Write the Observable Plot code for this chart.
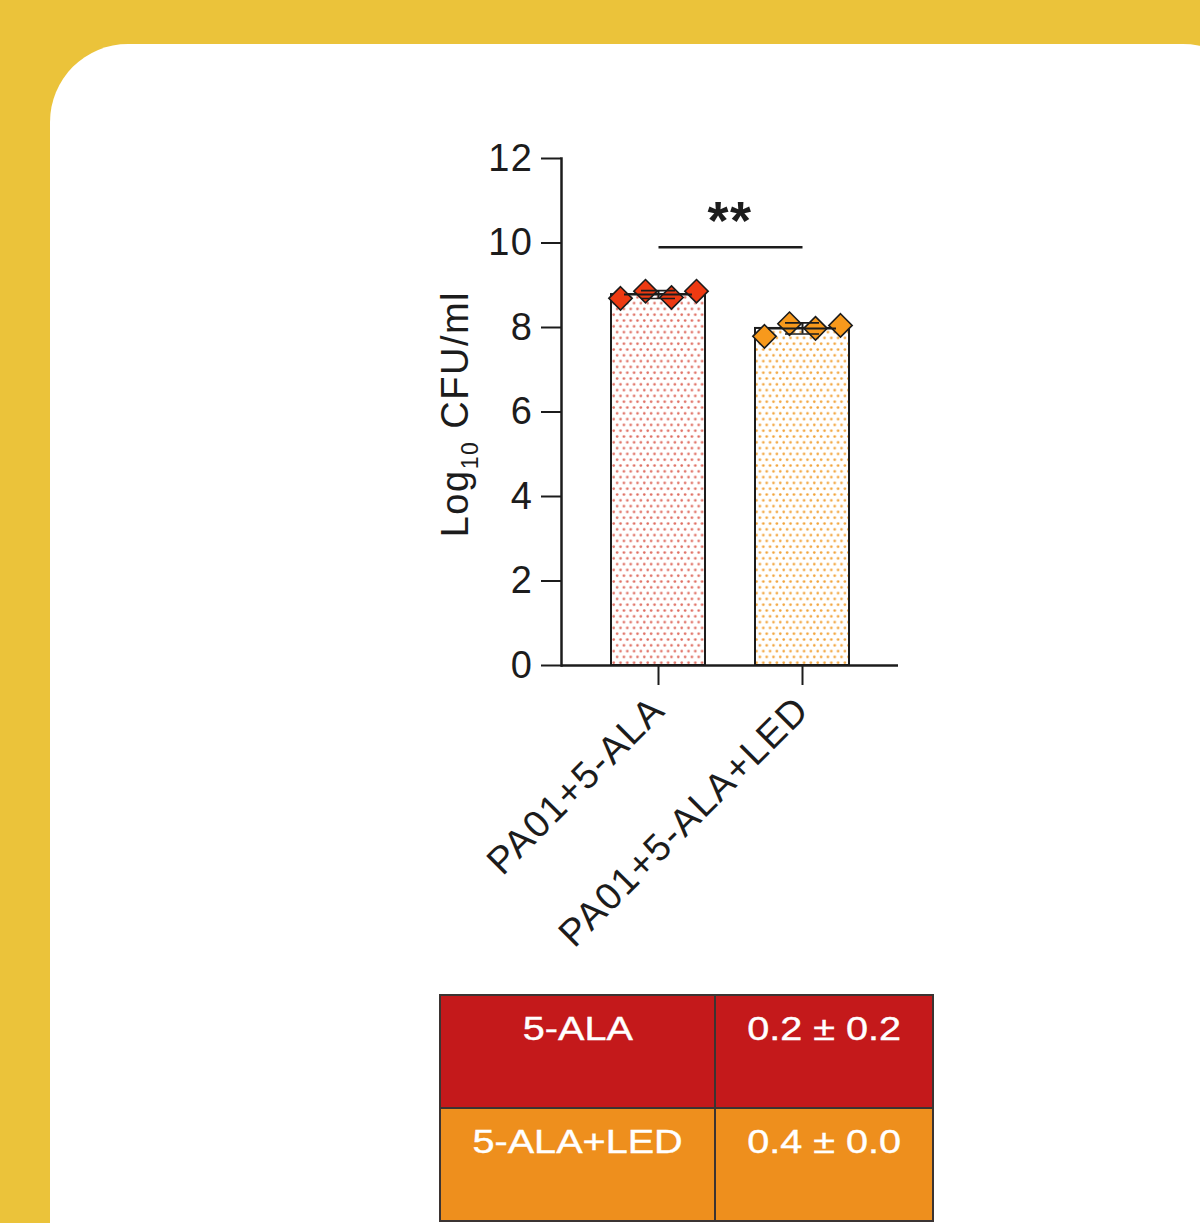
<!DOCTYPE html>
<html>
<head>
<meta charset="utf-8">
<script src="https://cdn.jsdelivr.net/npm/d3@7"></script>
<script src="https://cdn.jsdelivr.net/npm/@observablehq/plot@0.6"></script>
<style>
  html, body { margin: 0; padding: 0; width: 1200px; height: 1223px; overflow: hidden; background: #EBC33A; }
  body { position: relative; font-family: "Liberation Sans", Arial, sans-serif; }
  #card { position: absolute; left: 50px; top: 44px; width: 1211px; height: 1400px; background: #fff; border-radius: 78px; }
  #chart { position: absolute; left: 0; top: 0; }
  #summary { position: absolute; left: 439px; top: 994px; width: 493px; border-collapse: collapse; table-layout: fixed; }
  #summary td { height: 113px; padding: 16px 0 0 0; vertical-align: top; text-align: center; color: #fff;
                font-size: 33px; line-height: 33px; border: 2px solid #3b3432; box-sizing: border-box; }
  #summary td span { display: inline-block; transform: scaleX(1.2); transform-origin: center; white-space: nowrap;
                     -webkit-text-stroke: 0.4px #fff; }
</style>
</head>
<body>
<div id="card"></div>
<div id="chart"></div>
<table id="summary"><colgroup><col style="width:275px"><col style="width:218px"></colgroup><tbody></tbody></table>
<script>
// Groups on the x axis
const groups = ["PA01+5-ALA", "PA01+5-ALA+LED"];
// Log10 CFU/ml, four replicates per group
const replicatesALA = [8.69, 8.86, 8.71, 8.86];
const replicatesALALED = [7.79, 8.09, 7.98, 8.05];
// y axis
const yTicks = [0, 2, 4, 6, 8, 10, 12];
const yLabelParts = ["Log", "10", " CFU/ml"];
// significance bracket between the two groups
const significanceLabel = "**";
const bracketLevel = 9.9;
// summary table below the chart
const treatments = ["5-ALA", "5-ALA+LED"];
const ratioMean = [0.2, 0.4];
const ratioSD = [0.2, 0.0];

// styling
const ink = "#1c1c1c";
const dotFill = ["#EE3A12", "#F7991C"];
const patternDot = ["#DF6E62", "#F2A43A"];
const rowFill = ["#C4191B", "#EE8F1D"];
const jitter = [-38, -13, 13, 38];

const replicates = [replicatesALA, replicatesALALED];
const summary = groups.map((g, i) => ({
  group: g,
  mean: d3.mean(replicates[i]),
  sd: d3.deviation(replicates[i])
}));
const yLabel = yLabelParts.join("");

const marks = [];
// patterned bars at the group means
groups.forEach((g, i) => {
  marks.push(Plot.barY([summary[i]], {
    x: "group", y: "mean", fill: `url(#dots-${i})`, stroke: ink, strokeWidth: 2
  }));
});
// individual replicates as diamonds
groups.forEach((g, i) => {
  replicates[i].forEach((v, j) => {
    marks.push(Plot.dot([{group: g, value: v}], {
      x: "group", y: "value", dx: jitter[j], symbol: "diamond2", r: 10.5,
      fill: dotFill[i], stroke: ink, strokeWidth: 1.6
    }));
  });
});
// mean ± SD
marks.push(
  Plot.ruleX(summary, {x: "group", y1: d => d.mean - d.sd, y2: d => d.mean + d.sd, stroke: ink, strokeWidth: 2}),
  Plot.tickY(summary, {x: "group", y: "mean", insetLeft: 13, insetRight: 13, stroke: ink, strokeWidth: 2}),
  Plot.tickY(summary, {x: "group", y: d => d.mean + d.sd, insetLeft: 30, insetRight: 30, stroke: ink, strokeWidth: 1.6}),
  Plot.tickY(summary, {x: "group", y: d => d.mean - d.sd, insetLeft: 30, insetRight: 30, stroke: ink, strokeWidth: 1.6})
);
// axes
marks.push(
  Plot.frame({anchor: "left", stroke: ink, strokeWidth: 2.5}),
  Plot.ruleY([0], {stroke: ink, strokeWidth: 2.5}),
  Plot.axisY(yTicks, {tickSize: 20, tickPadding: 8, fontSize: 38, stroke: ink, strokeWidth: 2, label: null}),
  Plot.axisX({tickSize: 20, tickPadding: 18, tickRotate: -45, fontSize: 38, stroke: ink, strokeWidth: 2, label: null}),
  Plot.text([yLabel], {text: d => d, frameAnchor: "left", textAnchor: "middle", y: () => 5.95, dx: -106, rotate: -90, fontSize: 38, fill: ink})
);
// significance bracket
marks.push(
  Plot.link([{a: groups[0], b: groups[1], y: bracketLevel}], {x1: "a", x2: "b", y1: "y", y2: "y", stroke: ink, strokeWidth: 2.5}),
  Plot.text([significanceLabel], {text: d => d, y: () => 10.5, fontSize: 54, fontWeight: "bold", fill: ink})
);

const chart = Plot.plot({
  width: 1200,
  height: 960,
  marginLeft: 561,
  marginRight: 302,
  marginTop: 158,
  marginBottom: 295,
  style: {fontFamily: "'Liberation Sans', Arial, sans-serif", color: ink, background: "transparent", overflow: "visible", letterSpacing: "1.5px"},
  x: {type: "band", domain: groups, paddingInner: 0.35, paddingOuter: 0.345, label: null},
  y: {domain: [0, 12], label: null},
  marks
});

// dotted fill patterns for the bars
const defs = d3.select(chart).insert("defs", ":first-child");
patternDot.forEach((c, i) => {
  const p = defs.append("pattern").attr("id", `dots-${i}`)
    .attr("patternUnits", "userSpaceOnUse").attr("width", 6.8).attr("height", 11.6);
  p.append("rect").attr("width", 6.8).attr("height", 11.6).attr("fill", "#fff");
  p.append("circle").attr("cx", 1.7).attr("cy", 1.5).attr("r", 1.3).attr("fill", c);
  p.append("circle").attr("cx", 5.1).attr("cy", 7.3).attr("r", 1.3).attr("fill", c);
});

// subscript in the y-axis label
d3.select(chart).selectAll("text")
  .filter(function() { return this.textContent === yLabel; })
  .each(function() {
    const t = d3.select(this).text(null);
    t.append("tspan").text(yLabelParts[0]);
    t.append("tspan").attr("font-size", 23).attr("dy", 10).text(yLabelParts[1]);
    t.append("tspan").attr("dy", -10).text(yLabelParts[2]);
  });

document.getElementById("chart").appendChild(chart);

// summary table
const rows = d3.select("#summary tbody").selectAll("tr")
  .data(treatments.map((t, i) => ({t, m: ratioMean[i], s: ratioSD[i], fill: rowFill[i]})))
  .join("tr")
  .style("background", d => d.fill);
rows.append("td").append("span").text(d => d.t);
rows.append("td").append("span").text(d => `${d.m.toFixed(1)} ± ${d.s.toFixed(1)}`);
</script>
</body>
</html>
